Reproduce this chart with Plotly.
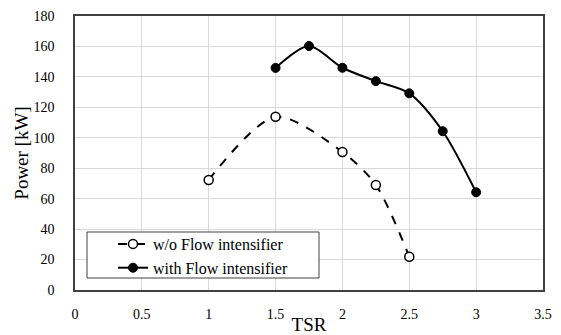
import plotly.graph_objects as go

tsr_wo = [1.0, 1.5, 2.0, 2.25, 2.5]
power_wo = [72.3, 113.8, 90.7, 69.0, 21.8]
tsr_with = [1.5, 1.75, 2.0, 2.25, 2.5, 2.75, 3.0]
power_with = [145.9, 160.3, 146.0, 137.2, 129.2, 104.3, 64.2]

x_ticks = [0, 0.5, 1, 1.5, 2, 2.5, 3, 3.5]
x_tick_labels = ["0", "0.5", "1", "1.5", "2", "2.5", "3", "3.5"]
y_ticks = list(range(0, 181, 20))

fig = go.Figure()
fig.add_trace(go.Scatter(
    x=tsr_wo, y=power_wo, name="w/o Flow intensifier",
    mode="lines+markers",
    line=dict(color="black", width=2, dash="dash", shape="spline", smoothing=0.8),
    marker=dict(symbol="circle", size=9, color="white", line=dict(color="black", width=1.5)),
))
fig.add_trace(go.Scatter(
    x=tsr_with, y=power_with, name="with Flow intensifier",
    mode="lines+markers",
    line=dict(color="black", width=2, shape="spline", smoothing=0.8),
    marker=dict(symbol="circle", size=9, color="black", line=dict(color="black", width=1)),
))

font = "Liberation Serif"
W, H = 561, 335
L, R, T, B = 75, 18, 16, 45
pw, ph = W - L - R, H - T - B

def px(xp):
    return (xp - L) / pw

def py(yp):
    return (H - B - yp) / ph

fig.add_shape(type="rect", xref="paper", yref="paper",
              x0=px(87), x1=px(319), y0=py(278), y1=py(232),
              line=dict(color="#404040", width=1), fillcolor="white", layer="above")

fig.update_layout(
    width=W, height=H,
    margin=dict(l=L, r=R, t=T, b=B, autoexpand=False),
    paper_bgcolor="white", plot_bgcolor="white",
    font=dict(family=font, color="black", size=14),
    showlegend=True,
    legend=dict(
        x=px(113), y=py(227), xanchor="left", yanchor="top",
        borderwidth=0, bgcolor="rgba(0,0,0,0)",
        font=dict(family=font, size=16, color="black"),
        tracegroupgap=0, itemwidth=30,
    ),
    xaxis=dict(
        range=[0, 3.5], tickvals=x_ticks, ticktext=x_tick_labels,
        showgrid=True, gridcolor="#d9d9d9", gridwidth=1,
        showline=True, linecolor="#404040", linewidth=1.5, mirror=True,
        ticks="", zeroline=False, ticklabelstandoff=10, automargin=False,
        title=dict(text="TSR", font=dict(family=font, size=19), standoff=4),
        tickfont=dict(family=font, size=14),
    ),
    yaxis=dict(
        range=[0, 180], tickvals=y_ticks,
        showgrid=True, gridcolor="#d9d9d9", gridwidth=1,
        showline=True, linecolor="#404040", linewidth=1.5, mirror=True,
        ticks="", zeroline=False, ticklabelstandoff=16, automargin=False,
        title=dict(text="Power [kW]", font=dict(family=font, size=19), standoff=0),
        tickfont=dict(family=font, size=14),
    ),
)

fig.write_html("out.html")
